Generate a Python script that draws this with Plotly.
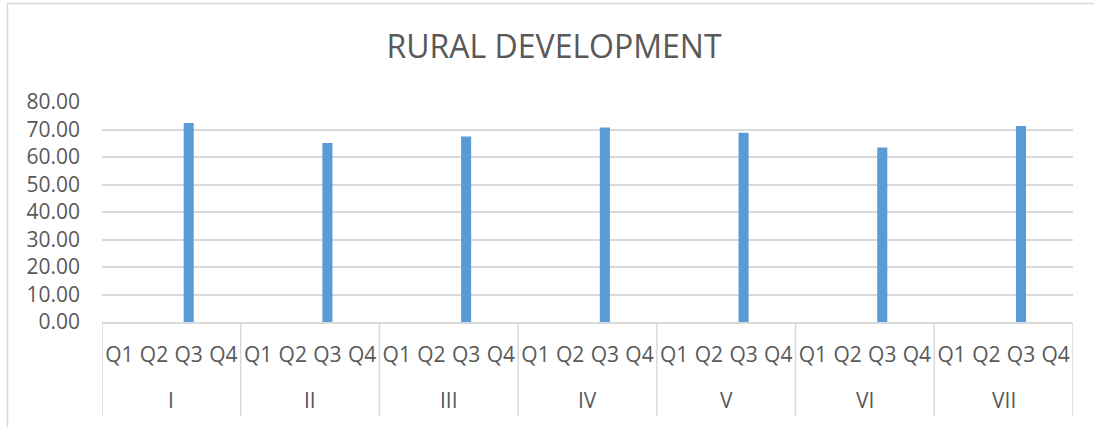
import plotly.graph_objects as go

# Quarterly scores per phase (only Q3 reported)
phases = ["I", "II", "III", "IV", "V", "VI", "VII"]
quarters = ["Q1", "Q2", "Q3", "Q4"]
q3_scores = [72.4, 65.1, 67.5, 70.7, 68.8, 63.5, 71.3]
y_ticks = [0, 10, 20, 30, 40, 50, 60, 70, 80]

# flatten into one slot per (phase, quarter)
slot_labels, vals = [], []
for p, v in zip(phases, q3_scores):
    for q in quarters:
        slot_labels.append(q)
        vals.append(v if q == "Q3" else None)
slots = list(range(len(slot_labels)))
nq = len(quarters)

W, H = 1094, 427
L, R, T, B = 102, 21, 102, 105
pw = W - L - R
ph = H - T - B
TXT = "#595959"
GRID = "#d9d9d9"
FONT = "Open Sans, DejaVu Sans, sans-serif"


def py(px_y):
    """Pixel row -> paper y."""
    return (H - B - px_y) / ph


def px(px_x):
    """Pixel column -> paper x."""
    return (px_x - L) / pw


fig = go.Figure(
    go.Bar(
        x=slots,
        y=vals,
        marker=dict(color="#5b9bd5", line=dict(width=0)),
        hovertext=[f"{phases[i // nq]} {slot_labels[i]}" for i in slots],
        hoverinfo="text+y",
    )
)

# phase group labels under the quarter labels
annotations = [
    dict(text=p, x=i * nq + (nq - 1) / 2, xref="x", y=py(400), yref="paper",
         showarrow=False, xanchor="center", yanchor="middle",
         font=dict(family=FONT, size=21, color=TXT))
    for i, p in enumerate(phases)
]

# vertical dividers between phase groups (including both ends)
shapes = [
    dict(type="line", xref="x", yref="paper",
         x0=k * nq - 0.5, x1=k * nq - 0.5, y0=0, y1=py(416),
         line=dict(color=GRID, width=1.5))
    for k in range(len(phases) + 1)
]
# outer chart frame (left and top edges)
shapes += [
    dict(type="line", xref="paper", yref="paper",
         x0=px(7.5), x1=px(7.5), y0=py(3), y1=py(432),
         line=dict(color=GRID, width=1.5)),
    dict(type="line", xref="paper", yref="paper",
         x0=px(7.5), x1=px(W + 5), y0=py(3.5), y1=py(3.5),
         line=dict(color=GRID, width=1.5)),
]

fig.update_layout(
    width=W,
    height=H,
    margin=dict(l=L, r=R, t=T, b=B, autoexpand=False),
    paper_bgcolor="white",
    plot_bgcolor="white",
    bargap=0.71,
    showlegend=False,
    font=dict(family=FONT, color=TXT, size=21),
    title=dict(
        text="RURAL DEVELOPMENT",
        x=554 / W,
        xanchor="center",
        y=1 - 47 / H,
        yanchor="middle",
        font=dict(family=FONT, size=32, color=TXT),
    ),
    xaxis=dict(
        range=[-0.5, len(slots) - 0.5],
        tickvals=slots,
        ticktext=slot_labels,
        showline=True,
        linecolor=GRID,
        linewidth=1.5,
        showgrid=False,
        zeroline=False,
        ticks="",
        ticklabelstandoff=13,
        tickfont=dict(family=FONT, size=21, color=TXT),
        automargin=False,
    ),
    yaxis=dict(
        range=[0, 80],
        tickvals=y_ticks,
        ticktext=[f"{v:.2f}" for v in y_ticks],
        showgrid=True,
        gridcolor=GRID,
        gridwidth=1.5,
        zeroline=False,
        showline=False,
        ticks="",
        ticklabelstandoff=21,
        tickfont=dict(family=FONT, size=21, color=TXT),
        automargin=False,
    ),
    annotations=annotations,
    shapes=shapes,
)

fig.write_html("out.html")
